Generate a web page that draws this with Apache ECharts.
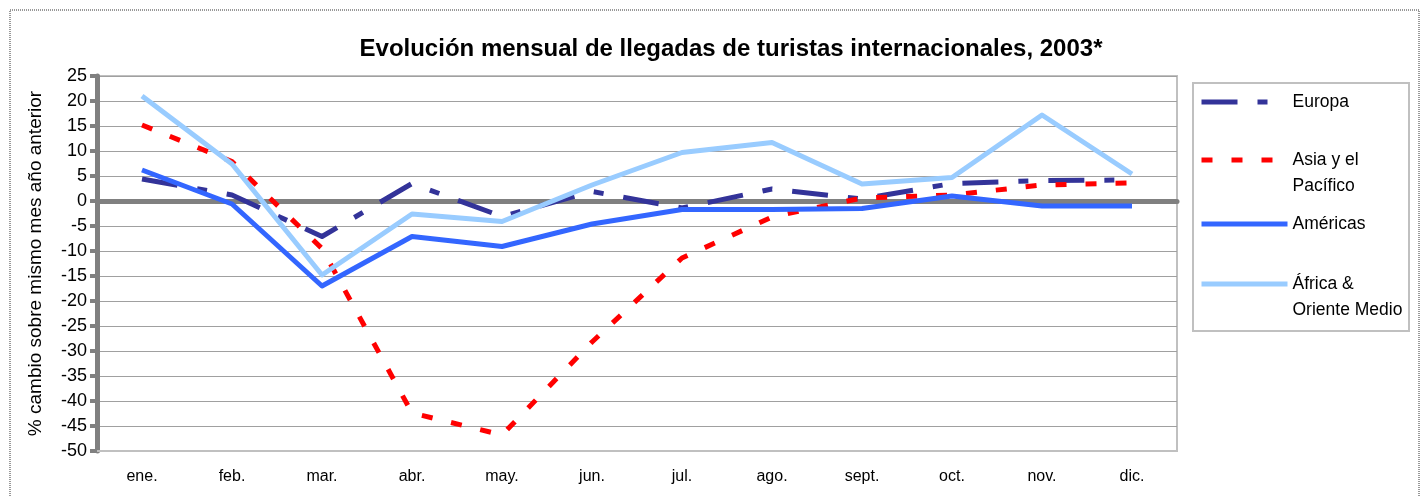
<!DOCTYPE html>
<html>
<head>
<meta charset="utf-8">
<title>Evolución mensual de llegadas de turistas internacionales, 2003</title>
<script src="https://cdn.jsdelivr.net/npm/echarts@6/dist/echarts.min.js"></script>
<style>
  html, body { margin: 0; padding: 0; background: #fff; }
  #main { width: 1428px; height: 497px; }
</style>
</head>
<body>
<div id="main"></div>
<script>
// datos
var meses = ['ene.', 'feb.', 'mar.', 'abr.', 'may.', 'jun.', 'jul.', 'ago.', 'sept.', 'oct.', 'nov.', 'dic.'];
var europa   = [4.4, 1.2, -7.1, 3.5, -3.1, 1.9, -1.4, 2.4, 0.4, 3.5, 4.1, 4.2];
var asia     = [15.2, 7.9, -9.5, -42.4, -46.8, -28.2, -11.4, -3.2, 0.6, 1.2, 3.2, 3.6];
var americas = [6.2, -0.6, -17.0, -7.1, -9.1, -4.6, -1.7, -1.7, -1.5, 1.0, -1.0, -1.0];
var africa   = [21.0, 7.4, -14.8, -2.6, -4.1, 3.2, 9.7, 11.7, 3.4, 4.7, 17.2, 5.4];
var yTicks = { min: -50, max: 25, step: 5 };

var fuente = "'Liberation Sans Narrow', 'Liberation Sans', Arial, sans-serif";

function serie(nombre, datos, color, tipo) {
  return {
    name: nombre,
    type: 'line',
    data: datos,
    symbol: 'none',
    z: 3,
    lineStyle: { color: color, width: 5, type: tipo, cap: 'butt', join: 'round' },
    itemStyle: { color: color }
  };
}

// una leyenda por serie, para poder colocar cada una
function leyenda(nombre, top, dosLineas) {
  return {
    data: [nombre],
    left: 1199,
    top: top,
    padding: 0,
    itemWidth: 86,
    itemHeight: 14,
    selectedMode: false,
    itemStyle: { opacity: 0 },
    lineStyle: { width: 5 },
    // línea vacía delante: la primera línea del texto queda a la altura del trazo
    formatter: dosLineas ? function (n) { return '\n' + n; } : '{name}',
    textStyle: { fontFamily: fuente, fontSize: 17.5, color: '#000', lineHeight: 26 }
  };
}

var chart = echarts.init(document.getElementById('main'));
chart.setOption({
  animation: false,
  backgroundColor: '#fff',
  title: {
    text: 'Evolución mensual de llegadas de turistas internacionales, 2003*',
    left: 726,
    textAlign: 'center',
    top: 32,
    textStyle: { fontFamily: "'Liberation Sans', Arial, sans-serif", fontSize: 24, fontWeight: 'bold', color: '#000' }
  },
  legend: [
    leyenda('Europa', 89, false),
    leyenda('Asia y el\nPacífico', 121, true),
    leyenda('Américas', 211, false),
    leyenda('África &\nOriente Medio', 245, true)
  ],
  graphic: [
    { type: 'rect', shape: { x: 10, y: 10, width: 1409, height: 500 },
      style: { fill: null, stroke: '#333', lineWidth: 1, lineDash: [1, 1] }, silent: true, z: -1 },
    { type: 'rect', shape: { x: 1193, y: 83, width: 216, height: 248 },
      style: { fill: null, stroke: '#C0C0C0', lineWidth: 2 }, silent: true, z: -1 }
  ],
  grid: {
    left: 97, right: 251, top: 76, bottom: 46,
    show: true, borderColor: '#C0C0C0', borderWidth: 2, backgroundColor: 'transparent'
  },
  xAxis: [
    {
      type: 'category',
      data: meses,
      boundaryGap: true,
      axisLine: { onZero: false, lineStyle: { color: '#C0C0C0', width: 2 } },
      axisTick: { show: false },
      axisLabel: { fontFamily: fuente, fontSize: 16, color: '#000', margin: 18 }
    },
    {
      type: 'category',
      data: meses,
      position: 'bottom',
      boundaryGap: true,
      axisLine: { onZero: true, lineStyle: { color: '#808080', width: 5, cap: 'round' } },
      axisTick: { show: false },
      axisLabel: { show: false },
      splitLine: { show: false }
    }
  ],
  yAxis: {
    type: 'value',
    min: yTicks.min,
    max: yTicks.max,
    interval: yTicks.step,
    name: '% cambio sobre mismo mes año anterior',
    nameLocation: 'middle',
    nameRotate: 90,
    nameGap: 52,
    nameTextStyle: { fontFamily: fuente, fontSize: 19, color: '#000' },
    axisLine: { show: true, lineStyle: { color: '#808080', width: 5 } },
    axisTick: { show: true, length: 7, lineStyle: { color: '#808080', width: 4 } },
    axisLabel: { fontFamily: fuente, fontSize: 18, color: '#000', margin: 10 },
    splitLine: { lineStyle: { color: '#A0A0A0', width: 1 } }
  },
  series: [
    serie('Europa', europa, '#333399', [36, 20, 10, 20]),
    serie('Asia y el\nPacífico', asia, '#FF0000', [11, 19]),
    serie('Américas', americas, '#3366FF', 'solid'),
    serie('África &\nOriente Medio', africa, '#99CCFF', 'solid')
  ]
});
</script>
</body>
</html>
